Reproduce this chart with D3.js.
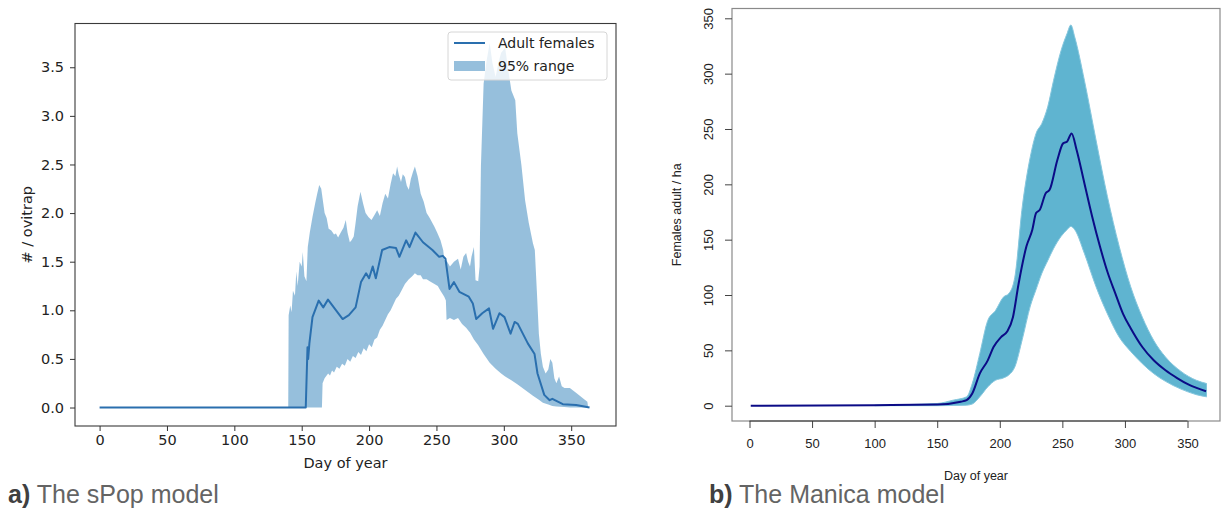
<!DOCTYPE html>
<html>
<head>
<meta charset="utf-8">
<script src="https://cdn.jsdelivr.net/npm/d3@7"></script>
<style>
body { margin: 0; background: #fff; }
svg { display: block; }
</style>
</head>
<body>
<svg width="1226" height="509"></svg>
<script>
var svg = d3.select('svg');

// ---- panel a: sPop model (mean and 95% range)
var spopDays = [0, 153, 154.3, 154.8, 155.7, 158, 162.6, 166, 169.5, 175.5, 180.4, 185, 190, 194, 197.8, 200, 202.7, 205, 209.7, 215, 220, 222.5, 227.5, 230, 234.4, 240, 247, 252, 254.7, 256.7, 259.7, 263, 267, 274, 277, 279.5, 284, 289, 292, 296.8, 300.5, 305, 308, 310.4, 317.8, 322.8, 325, 330, 334, 336, 343.8, 353.7, 363.6];
var spopMean = [0, 0, 0.62, 0.5, 0.66, 0.93, 1.10, 1.03, 1.11, 1.0, 0.91, 0.95, 1.03, 1.29, 1.38, 1.33, 1.45, 1.33, 1.62, 1.65, 1.64, 1.55, 1.72, 1.65, 1.80, 1.70, 1.62, 1.55, 1.56, 1.53, 1.22, 1.29, 1.19, 1.14, 1.07, 0.91, 0.97, 1.02, 0.81, 0.97, 0.93, 0.76, 0.88, 0.86, 0.66, 0.55, 0.35, 0.13, 0.075, 0.09, 0.034, 0.027, 0];

// upper edge of the 95% range
var hiDays = [140, 140.3, 141.5, 142.5, 143.5, 145, 146, 147, 148.5, 150, 150.8, 152, 153.5, 154.5, 156, 158, 160, 161.5, 163, 164.5, 165.5, 167, 168.5, 170, 172, 174, 175.4, 177, 179, 181, 182.7, 184, 185.7, 187, 188.6, 190, 191.5, 193.6, 195.5, 197.4, 199.5, 201.8, 204, 206, 208, 210, 212, 214, 216, 217.8, 219.5, 220.8, 222, 223.7, 225, 226.6, 228, 229.5, 231, 232.5, 234, 236, 238.3, 240.5, 242.7, 245, 248.5, 250.5, 253, 255, 255.8, 258, 260, 263, 266, 268, 270, 272, 273.5, 274.9, 276, 277.8, 279, 281, 282, 283, 285, 287, 289.5, 291.5, 293.9, 296, 298, 301, 303, 305.6, 308.5, 310, 313, 315.8, 318.5, 321.6, 323, 324.5, 326, 327.5, 329, 331, 333, 334.5, 336, 337.5, 339, 341, 343, 345, 349, 353.8, 359.6, 362, 362.6];
var hiVals = [0, 0.95, 1.05, 0.98, 1.2, 1.15, 1.4, 1.25, 1.5, 1.45, 1.6, 1.35, 1.3, 1.65, 1.8, 1.96, 2.1, 2.2, 2.29, 2.25, 2.15, 2.0, 1.95, 1.84, 1.82, 1.78, 1.79, 1.75, 1.8, 1.85, 1.93, 1.8, 1.70, 1.72, 1.76, 1.9, 2.07, 2.22, 2.1, 2.0, 1.96, 1.93, 1.98, 2.03, 1.97, 2.1, 2.2, 2.15, 2.3, 2.41, 2.38, 2.48, 2.4, 2.32, 2.4, 2.37, 2.28, 2.24, 2.35, 2.42, 2.48, 2.38, 2.2, 2.12, 2.0, 1.95, 1.86, 1.8, 1.72, 1.62, 1.52, 1.5, 1.45, 1.5, 1.53, 1.42, 1.55, 1.59, 1.5, 1.45, 1.55, 1.65, 1.31, 1.3, 1.45, 2.48, 3.33, 3.55, 3.75, 3.55, 3.4, 3.55, 3.65, 3.7, 3.5, 3.26, 3.16, 2.82, 2.5, 2.13, 1.9, 1.69, 1.62, 1.2, 0.76, 0.55, 0.42, 0.35, 0.39, 0.5, 0.46, 0.3, 0.25, 0.32, 0.22, 0.2, 0.2, 0.15, 0.086, 0.06, 0];

// lower edge of the 95% range
var loDays = [140, 165, 165.5, 167, 169.6, 171, 172.5, 174, 176, 178, 180, 182, 184, 186, 188, 190, 192, 194, 196, 198, 200, 202, 204, 206, 208, 210, 212, 214, 216, 218, 220, 222, 224, 226.6, 229.5, 232, 234, 236, 238.3, 240, 242.7, 245, 248.5, 251, 253, 255.8, 257, 257.5, 260, 263, 266, 269, 272, 275, 277.8, 281, 285, 289.5, 293.9, 298, 301, 305.6, 310, 315.8, 321.6, 326, 329, 333, 336, 339, 345, 349, 362.6];
var loVals = [0, 0, 0.25, 0.3, 0.35, 0.33, 0.38, 0.36, 0.42, 0.4, 0.45, 0.43, 0.5, 0.47, 0.53, 0.51, 0.57, 0.54, 0.61, 0.58, 0.65, 0.62, 0.7, 0.72, 0.8, 0.84, 0.9, 0.96, 1.0, 1.06, 1.12, 1.15, 1.2, 1.27, 1.32, 1.35, 1.38, 1.36, 1.36, 1.32, 1.32, 1.3, 1.27, 1.25, 1.2, 1.14, 1.1, 0.9, 0.92, 0.9, 0.92, 0.86, 0.82, 0.77, 0.7, 0.64, 0.55, 0.46, 0.4, 0.35, 0.32, 0.28, 0.24, 0.18, 0.12, 0.08, 0.05, 0.03, 0.017, 0.01, 0.005, 0, 0];

var spopXTicks = [0, 50, 100, 150, 200, 250, 300, 350];
var spopYTicks = [0, 0.5, 1.0, 1.5, 2.0, 2.5, 3.0, 3.5];

// ---- panel b: Manica model (ensemble envelope and mean)
var manDays = [1, 100, 150, 168.8, 173.5, 178, 184, 190.4, 195, 201, 205.9, 210.5, 215, 221.3, 226, 229, 232, 236.7, 239.8, 246, 250.6, 253.7, 257.4, 261.4, 267.6, 273.8, 280, 286, 292.3, 298.5, 304.6, 313.9, 323, 332.4, 341.7, 351, 364.8];
var manMean = [0, 0.5, 1, 3.6, 5, 11, 29, 41, 53, 62, 67, 80, 110, 144, 159, 174, 177, 192, 195, 222, 237, 238.5, 246, 231, 201, 171, 144, 121, 101.5, 83, 70, 53, 41, 32, 25, 19, 13];

var envDays = [100, 150, 162.7, 173.5, 178, 184, 190.4, 196.6, 202.8, 207.4, 212, 218, 224.4, 229, 233.6, 238.3, 243, 249, 253.7, 256.8, 259.9, 267.6, 276.9, 286, 295.4, 304.6, 313.9, 323, 332.4, 344.8, 357, 365.4];
var envHigh = [0.5, 2, 5, 8, 20, 47, 77, 86, 98, 101.5, 116, 180, 225, 246, 255, 270, 294, 321, 336, 344, 333, 294, 240, 189, 144, 107.5, 80, 59, 44, 31, 23, 20];
var envLow = [0, 0, 0.2, 0.5, 1.5, 8, 17, 23, 25, 28, 35, 60, 90, 105, 119.6, 131, 142, 153, 159, 162, 159, 137.6, 107.5, 83, 62, 49, 38, 29, 22, 15, 10, 8];

var manXTicks = [0, 50, 100, 150, 200, 250, 300, 350];
var manYTicks = [0, 50, 100, 150, 200, 250, 300, 350];

// ================= panel a =================
var a = {l: 75, r: 616, t: 23.5, b: 426};
var xA = d3.scaleLinear().domain([-18.25, 383.25]).range([a.l, a.r]);
var yA = d3.scaleLinear().domain([-0.19, 3.95]).range([a.b, a.t]);

var gA = svg.append('g');

// band polygon: upper edge forward, lower edge back
var bandPts = hiDays.map(function(d, i) { return [xA(d), yA(hiVals[i])]; })
  .concat(loDays.map(function(d, i) { return [xA(d), yA(loVals[i])]; }).reverse());
gA.append('path')
  .datum(bandPts)
  .attr('fill', '#1f77b4')
  .attr('fill-opacity', 0.47)
  .attr('d', d3.line().curve(d3.curveLinearClosed));

var meanPts = spopDays.map(function(d, i) { return {x: d, y: spopMean[i]}; });
gA.append('path')
  .datum(meanPts)
  .attr('fill', 'none')
  .attr('stroke', '#2a6fae')
  .attr('stroke-width', 2)
  .attr('stroke-linejoin', 'round')
  .attr('d', d3.line().x(function(d) { return xA(d.x); }).y(function(d) { return yA(d.y); }));

gA.append('rect')
  .attr('x', a.l).attr('y', a.t)
  .attr('width', a.r - a.l).attr('height', a.b - a.t)
  .attr('fill', 'none').attr('stroke', '#3a3a3a').attr('stroke-width', 1.1);

var axA = gA.append('g')
  .attr('transform', 'translate(0,' + a.b + ')')
  .call(d3.axisBottom(xA).tickValues(spopXTicks).tickSize(5).tickPadding(4));
var ayA = gA.append('g')
  .attr('transform', 'translate(' + a.l + ',0)')
  .call(d3.axisLeft(yA).tickValues(spopYTicks).tickFormat(d3.format('.1f')).tickSize(5).tickPadding(6));
[axA, ayA].forEach(function(ax) {
  ax.select('.domain').remove();
  ax.selectAll('line').attr('stroke', '#333');
  ax.selectAll('text').attr('font-family', 'DejaVu Sans').attr('font-size', 14.5).attr('fill', '#222');
});

gA.append('text')
  .attr('x', (a.l + a.r) / 2).attr('y', 468)
  .attr('text-anchor', 'middle')
  .attr('font-family', 'DejaVu Sans').attr('font-size', 14.5).attr('fill', '#222')
  .text('Day of year');
gA.append('text')
  .attr('transform', 'translate(32,' + ((a.t + a.b) / 2) + ') rotate(-90)')
  .attr('text-anchor', 'middle')
  .attr('font-family', 'DejaVu Sans').attr('font-size', 14.5).attr('fill', '#222')
  .text('# / ovitrap');

// legend
var leg = gA.append('g').attr('transform', 'translate(448,32)');
leg.append('rect')
  .attr('width', 159).attr('height', 48).attr('rx', 3)
  .attr('fill', '#fff').attr('fill-opacity', 0.8)
  .attr('stroke', '#d6d6d6');
leg.append('line')
  .attr('x1', 6).attr('x2', 37).attr('y1', 11).attr('y2', 11)
  .attr('stroke', '#2a6fae').attr('stroke-width', 2);
leg.append('rect')
  .attr('x', 6).attr('y', 29).attr('width', 31).attr('height', 10)
  .attr('fill', '#1f77b4').attr('fill-opacity', 0.47);
leg.append('text').attr('x', 50).attr('y', 16)
  .attr('font-family', 'DejaVu Sans').attr('font-size', 14).attr('fill', '#222')
  .text('Adult females');
leg.append('text').attr('x', 50).attr('y', 39)
  .attr('font-family', 'DejaVu Sans').attr('font-size', 14).attr('fill', '#222')
  .text('95% range');

// ================= panel b =================
var b = {l: 732, r: 1220, t: 8.5, b: 421};
var xB = d3.scaleLinear().domain([0, 350]).range([749.5, 1187.5]);
var yB = d3.scaleLinear().domain([0, 350]).range([405.7, 18.3]);

var gB = svg.append('g');

var envPts = envDays.map(function(d, i) { return {x: d, hi: envHigh[i], lo: envLow[i]}; });
gB.append('path')
  .datum(envPts)
  .attr('fill', '#5fb4d0')
  .attr('d', d3.area().curve(d3.curveMonotoneX).x(function(d) { return xB(d.x); }).y0(function(d) { return yB(d.lo); }).y1(function(d) { return yB(d.hi); }));
[envHigh, envLow].forEach(function(arr) {
  gB.append('path')
    .datum(envDays.map(function(d, i) { return {x: d, y: arr[i]}; }))
    .attr('fill', 'none')
    .attr('stroke', '#86c7de')
    .attr('stroke-width', 1)
    .attr('d', d3.line().curve(d3.curveMonotoneX).x(function(d) { return xB(d.x); }).y(function(d) { return yB(d.y); }));
});

gB.append('path')
  .datum(manDays.map(function(d, i) { return {x: d, y: manMean[i]}; }))
  .attr('fill', 'none')
  .attr('stroke', '#0b0b86')
  .attr('stroke-width', 2)
  .attr('stroke-linejoin', 'round')
  .attr('d', d3.line().curve(d3.curveMonotoneX).x(function(d) { return xB(d.x); }).y(function(d) { return yB(d.y); }));

gB.append('rect')
  .attr('x', b.l).attr('y', b.t)
  .attr('width', b.r - b.l).attr('height', b.b - b.t)
  .attr('fill', 'none').attr('stroke', '#8a8a8a').attr('stroke-width', 1.2);

var axB = gB.append('g')
  .attr('transform', 'translate(0,' + b.b + ')')
  .call(d3.axisBottom(xB).tickValues(manXTicks).tickSize(7).tickPadding(11));
var ayB = gB.append('g')
  .attr('transform', 'translate(' + b.l + ',0)')
  .call(d3.axisLeft(yB).tickValues(manYTicks).tickSize(7));
[axB, ayB].forEach(function(ax) {
  ax.select('.domain').remove();
  ax.selectAll('line').attr('stroke', '#444');
  ax.selectAll('text').attr('font-family', 'Liberation Sans').attr('font-size', 13).attr('fill', '#222');
});
axB.append('line')
  .attr('x1', xB(manXTicks[0])).attr('x2', xB(manXTicks[manXTicks.length - 1]))
  .attr('stroke', '#333');
ayB.selectAll('text')
  .attr('x', null).attr('dy', null)
  .attr('text-anchor', 'middle')
  .attr('transform', 'translate(-19.5,0) rotate(-90)');

gB.append('text')
  .attr('x', (b.l + b.r) / 2).attr('y', 480)
  .attr('text-anchor', 'middle')
  .attr('font-family', 'Liberation Sans').attr('font-size', 12.5).attr('fill', '#222')
  .text('Day of year');
gB.append('text')
  .attr('transform', 'translate(681,' + ((b.t + b.b) / 2) + ') rotate(-90)')
  .attr('text-anchor', 'middle')
  .attr('font-family', 'Liberation Sans').attr('font-size', 12.5).attr('fill', '#222')
  .text('Females adult / ha');

// ================= captions =================
var captions = [{x: 8, tag: 'a)', text: ' The sPop model'}, {x: 709, tag: 'b)', text: ' The Manica model'}];
captions.forEach(function(c) {
  var t = svg.append('text')
    .attr('x', c.x).attr('y', 503)
    .attr('font-family', 'Liberation Sans').attr('font-size', 25);
  t.append('tspan').attr('font-weight', 'bold').attr('fill', '#404040').text(c.tag);
  t.append('tspan').attr('fill', '#646464').text(c.text);
});
</script>
</body>
</html>
